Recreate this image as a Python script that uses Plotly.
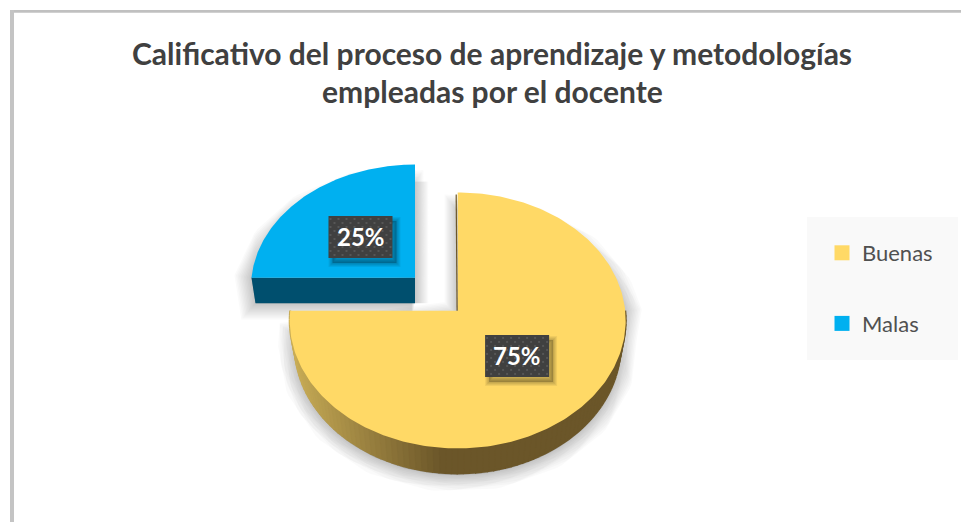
import numpy as np
import plotly.graph_objects as go

categories = ["Buenas", "Malas"]
values = [75, 25]
colors = ["#FFD966", "#00B0F0"]
title_lines = ["Calificativo del proceso de aprendizaje y metodologías",
               "empleadas por el docente"]
FONT = "Lato"

# Drawing constants: the x/y axes run in canvas pixels
W, H = 961, 522
GEOM = [
    dict(ax=457.7, ay=310.7, dy=9.7, rx=168, ry=128, depth=25, inset=5, lab=0.50),
    dict(ax=415.0, ay=277.7, dy=9.3, rx=164, ry=122.5, depth=25.5, inset=4, lab=0.47),
]

traces = []


def boundary(g, a, bottom=False):
    """Where a pie angle (radians) meets the slice's rim, top or bottom ellipse."""
    u0, v0 = 0.0, -g["dy"] / g["ry"]
    du, dv = np.cos(a), -np.sin(a)
    b = u0 * du + v0 * dv
    s = -b + np.sqrt(b * b - (u0 * u0 + v0 * v0 - 1))
    u, v = u0 + s * du, v0 + s * dv
    rx = g["rx"] - (g["inset"] if bottom else 0)
    cy = g["ay"] + g["dy"] + (g["depth"] if bottom else 0)
    return g["ax"] + rx * u, cy + g["ry"] * v


def poly(xs, ys, fill, line=None, width=0):
    traces.append(go.Scatter(
        x=list(xs), y=list(ys), mode="lines", fill="toself", fillcolor=fill,
        line=dict(color=line or "rgba(0,0,0,0)", width=width),
        hoverinfo="skip", showlegend=False))


def soft_shadow(xs, ys, widths, alpha):
    for w in widths:
        c = f"rgba(0,0,0,{alpha})"
        poly(xs, ys, c, c, w)


def mix(c1, c2, t):
    return "rgb(%d,%d,%d)" % tuple(round(a + (b - a) * t) for a, b in zip(c1, c2))


shares = np.array(values) / sum(values) * 2 * np.pi
ends = np.cumsum(shares)
starts = ends - shares
sweeps = [(np.pi / 2 - s, np.pi / 2 - e) for s, e in zip(starts, ends)]


def pulled_in(g, a, bottom=False):
    """Rim point moved under the face on the back half, so no shadow shows there."""
    x, y = boundary(g, a, bottom)
    f = max(np.sin(a), 0)
    return x - 17 * f * np.cos(a), y + 17 * f * np.sin(a)


# shadows first: wider layers sit further inside the notch edge so it stays narrow
LAYERS = list(range(3, 34, 3))
g = GEOM[0]
a0, a1 = sweeps[0]
ang = np.linspace(a0, a1, 240)
pts = [pulled_in(g, a, bottom=np.sin(a) < 0) for a in ang]
for w in LAYERS:
    s = -0.1 * w
    sx = [g["ax"] - s] + [p[0] for p in pts] + [g["ax"] - s]
    sy = [g["ay"] + 6] + [p[1] + 2 for p in pts] + [g["ay"] + 6]
    sx[1] -= s
    soft_shadow(sx, sy, [w], 0.018)

g = GEOM[1]
a0, a1 = sweeps[1]
ang = np.linspace(a0, a1, 90)
pts = [pulled_in(g, a) for a in ang]
bl = boundary(g, a0, bottom=True)
for w in LAYERS:
    s = -0.1 * w
    sx = [g["ax"] + s, bl[0]] + [p[0] for p in pts] + [g["ax"] + s]
    sy = [g["ay"] + g["depth"], bl[1]] + [p[1] for p in pts] + [g["ay"] + g["depth"]]
    sx[-2] += s
    soft_shadow(sx, sy, [w], 0.018)

# walls
g = GEOM[0]
LIGHT, DARK = (200, 172, 86), (107, 86, 41)
edges = np.linspace(0, -np.pi, 91)
for e0, e1 in zip(edges[:-1], edges[1:]):
    t0, t1 = boundary(g, e0), boundary(g, e1)
    b0, b1 = boundary(g, e0, True), boundary(g, e1, True)
    xm = (t0[0] + t1[0]) / 2
    t = np.clip((xm - 291) / 150, 0, 1)
    c = mix(LIGHT, DARK, t)
    poly([t0[0], t1[0], b1[0], b0[0]], [t0[1], t1[1], b1[1], b0[1]], c, c, 2)

g = GEOM[1]
a0 = sweeps[1][0]
t0, b0 = boundary(g, a0), boundary(g, a0, True)
poly([g["ax"], t0[0], b0[0], g["ax"]],
     [g["ay"], t0[1], b0[1], g["ay"] + g["depth"]], "#004F6E")

# top faces
for g, (a0, a1), col in zip(GEOM, sweeps, colors):
    ang = np.linspace(a0, a1, 240)
    pts = [boundary(g, a) for a in ang]
    poly([g["ax"]] + [p[0] for p in pts] + [g["ax"]],
         [g["ay"]] + [p[1] for p in pts] + [g["ay"]], col)

# thin cut face on the main slice
g = GEOM[0]
top = boundary(g, sweeps[0][0])
traces.append(go.Scatter(x=[g["ax"] - 1.5, g["ax"] - 0.6], y=[top[1] + 2, g["ay"]], mode="lines",
                         line=dict(color="#6B5629", width=1.2), hoverinfo="skip", showlegend=False))

# percentage labels
annotations = []
BW, BH = 64, 42
for g, (a0, a1), v in zip(GEOM, sweeps, values):
    m = (a0 + a1) / 2
    cx = g["ax"] + g["lab"] * g["rx"] * np.cos(m)
    cy = g["ay"] - g["lab"] * g["ry"] * np.sin(m)
    rx_ = [cx - BW / 2, cx + BW / 2, cx + BW / 2, cx - BW / 2, cx - BW / 2]
    ry_ = [cy - BH / 2, cy - BH / 2, cy + BH / 2, cy + BH / 2, cy - BH / 2]
    soft_shadow([x + 4 for x in rx_], [y + 5 for y in ry_], [2, 4, 6, 8], 0.06)
    poly(rx_, ry_, "#404040")
    dx, dy = [], []
    for j, yy in enumerate(np.arange(cy - BH / 2 + 3, cy + BH / 2 - 1, 4)):
        for xx in np.arange(cx - BW / 2 + 2 + (j % 2) * 4, cx + BW / 2 - 1, 8):
            dx.append(xx)
            dy.append(yy)
    traces.append(go.Scatter(x=dx, y=dy, mode="markers", hoverinfo="skip", showlegend=False,
                             marker=dict(symbol="square", size=2, color="#565656")))
    annotations.append(dict(x=cx, y=cy, xref="x", yref="y", text=f"<b>{v}%</b>", showarrow=False,
                            font=dict(family=FONT, size=24, color="#FFFFFF")))

# legend entries
for name, col in zip(categories, colors):
    traces.append(go.Scatter(x=[None], y=[None], mode="markers", name=name, legendgroup=name,
                             marker=dict(symbol="square", size=15, color=col)))

fig = go.Figure(traces)

for i, line in enumerate(title_lines):
    annotations.append(dict(x=492, y=53 + 38 * i, xref="x", yref="y", text=f"<b>{line}</b>",
                            showarrow=False, font=dict(family=FONT, size=30, color="#404040")))

fig.update_layout(
    width=W, height=H, autosize=False,
    margin=dict(l=0, r=0, t=0, b=0),
    paper_bgcolor="#FFFFFF", plot_bgcolor="#FFFFFF",
    xaxis=dict(range=[0, W], visible=False, fixedrange=True),
    yaxis=dict(range=[H, 0], visible=False, fixedrange=True),
    annotations=annotations,
    showlegend=True,
    legend=dict(x=822 / W, y=1 - 232 / H, xanchor="left", yanchor="top",
                bgcolor="rgba(0,0,0,0)", tracegroupgap=39,
                font=dict(family=FONT, size=22, color="#505050")),
    shapes=[
        dict(type="rect", x0=807, x1=958, y0=217, y1=360, xref="x", yref="y",
             fillcolor="#F9F9F9", line_width=0, layer="below"),
        dict(type="rect", x0=10, x1=W, y0=10, y1=12.7, xref="x", yref="y",
             fillcolor="#C0C0C0", line_width=0, layer="below"),
        dict(type="rect", x0=10, x1=14, y0=10, y1=H, xref="x", yref="y",
             fillcolor="#C4C4C4", line_width=0, layer="below"),
    ],
)

fig.write_html("out.html", config=dict(displayModeBar=False),
               post_script="document.body.style.margin='0';")
